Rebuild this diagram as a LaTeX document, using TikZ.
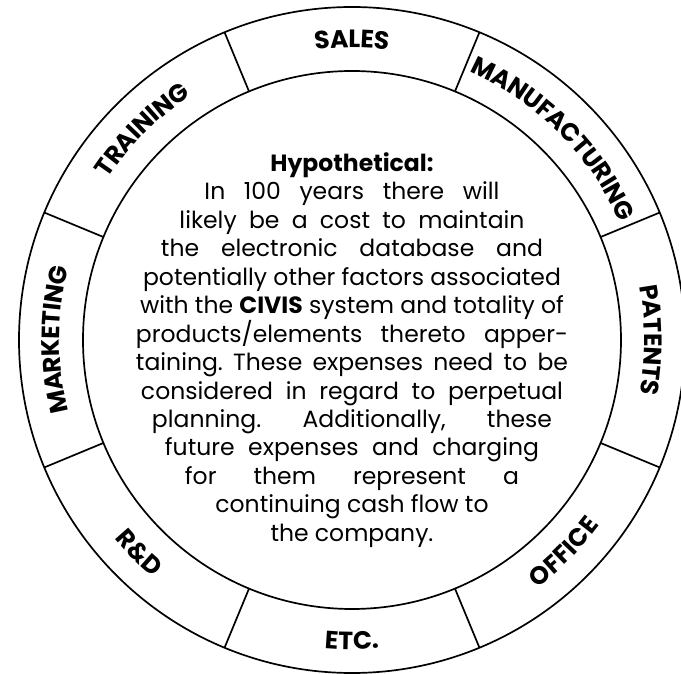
\documentclass[tikz,border=0pt]{standalone}
\usepackage{fontspec}
\setmainfont{Poppins}
\usetikzlibrary{decorations.text}
\frenchspacing

\newcommand\labelfont{\fontsize{25}{28}\bfseries\selectfont}

\begin{document}
\begin{tikzpicture}[x=1pt,y=1pt,
  ring/.style={line width=1.7pt},
  outlabel/.style={decorate,decoration={text along path,text align=center,
    raise=-8.5pt,text={|\labelfont|#1}}},
  every node/.style={font=\fontsize{23.5}{28.45}\selectfont}]
  \useasboundingbox (-352,-334) rectangle (329,340);
  % ring and its eight fields
  \draw[ring] (0,0) circle (333);
  \draw[ring] (0,0) circle (269);
  \foreach \a in {22.5,67.5,...,337.5}
    \draw[ring] (\a:269) -- (\a:333);
  % labels, tops outward
  \path[outlabel=SALES] (130:301) arc[start angle=130,end angle=50,radius=301pt];
  \path[outlabel=MANUFACTURING] (90:301) arc[start angle=90,end angle=0,radius=301pt];
  \path[outlabel=PATENTS] (40:301) arc[start angle=40,end angle=-40,radius=301pt];
  \path[outlabel=MARKETING] (220:301) arc[start angle=220,end angle=140,radius=301pt];
  \path[outlabel=TRAINING] (175:301) arc[start angle=175,end angle=95,radius=301pt];
  % labels, tops inward
  \path[outlabel=OFFICE] (-85:301) arc[start angle=-85,end angle=-5,radius=301pt];
  \path[outlabel=ETC.] (-130:301) arc[start angle=-130,end angle=-50,radius=301pt];
  \path[outlabel={R{\&}D}] (-175:301) arc[start angle=-175,end angle=-95,radius=301pt];
  % centre text
  \node[align=center] (hypo) at (0,-10) {%
    {\bfseries Hypothetical:}\\
    \makebox[295pt][s]{In 100 years there will}\\
    \makebox[345pt][s]{likely be a cost to maintain}\\
    \makebox[382pt][s]{the electronic database and}\\
    potentially other factors associated\\
    with the {\bfseries CIVIS} system and totality of\\
    \makebox[432pt][s]{products/elements thereto apper-}\\
    \makebox[432pt][s]{taining. These expenses need to be}\\
    \makebox[422pt][s]{considered in regard to perpetual}\\
    \makebox[400pt][s]{planning. Additionally, these}\\
    \makebox[374pt][s]{future expenses and charging}\\
    \makebox[334pt][s]{for them represent a}\\
    continuing cash flow to\\
    the company.};
\end{tikzpicture}
\end{document}
